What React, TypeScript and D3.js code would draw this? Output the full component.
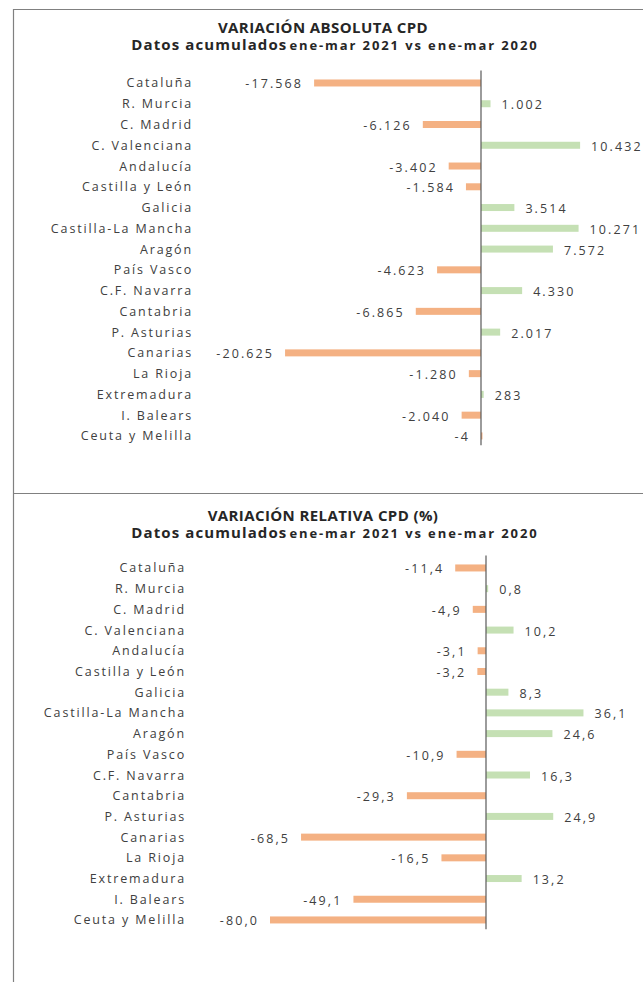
import { useRef, useEffect } from 'react';
import * as d3 from 'd3';

// Comunidades autónomas (orden del gráfico)
const CATEGORIES = [
  'Cataluña',
  'R. Murcia',
  'C. Madrid',
  'C. Valenciana',
  'Andalucía',
  'Castilla y León',
  'Galicia',
  'Castilla-La Mancha',
  'Aragón',
  'País Vasco',
  'C.F. Navarra',
  'Cantabria',
  'P. Asturias',
  'Canarias',
  'La Rioja',
  'Extremadura',
  'I. Balears',
  'Ceuta y Melilla'
];

// Variación absoluta CPD
const ABS_VALUES = [
  -17568, 1002, -6126, 10432, -3402, -1584, 3514, 10271, 7572, -4623, 4330,
  -6865, 2017, -20625, -1280, 283, -2040, -4
];

// Variación relativa CPD (%)
const REL_VALUES = [
  -11.4, 0.8, -4.9, 10.2, -3.1, -3.2, 8.3, 36.1, 24.6, -10.9, 16.3, -29.3,
  24.9, -68.5, -16.5, 13.2, -49.1, -80.0
];

const TITLES = ['VARIACIÓN ABSOLUTA CPD', 'VARIACIÓN RELATIVA CPD (%)'];
const SUB_BOLD = 'Datos acumulados';
const SUB_REST = 'ene-mar 2021 vs ene-mar 2020';

const NEG = '#F4B183';
const POS = '#C5E0B4';
const TXT = '#404040';
const FONT = '"Open Sans", "Noto Sans", sans-serif';

const es = d3.formatLocale({
  decimal: ',',
  thousands: '.',
  grouping: [3],
  currency: ['', '€'],
  minus: '-'
});

type PanelCfg = {
  top: number;
  values: number[];
  domain: [number, number];
  range: [number, number];
  band: [number, number];
  labelX: number;
  fmt: (n: number) => string;
  title: string;
};

const drawPanel = (
  svg: d3.Selection<SVGSVGElement, unknown, null, undefined>,
  cfg: PanelCfg
) => {
  const g = svg.append('g');
  const x = d3.scaleLinear().domain(cfg.domain).range(cfg.range);
  const y = d3.scaleBand().domain(CATEGORIES).range(cfg.band);
  const bh = 7;

  // títulos
  g.append('text')
    .attr('x', 323)
    .attr('y', cfg.top + 24)
    .attr('text-anchor', 'middle')
    .attr('font-family', FONT)
    .attr('font-weight', 'bold')
    .attr('font-size', 15)
    .attr('letter-spacing', 0.4)
    .attr('fill', '#262626')
    .text(cfg.title);

  const sub = g
    .append('text')
    .attr('x', 335)
    .attr('y', cfg.top + 41)
    .attr('text-anchor', 'middle')
    .attr('font-family', FONT)
    .attr('font-weight', 'bold')
    .attr('fill', '#262626');
  sub
    .append('tspan')
    .attr('font-size', 15)
    .attr('letter-spacing', 1.1)
    .text(SUB_BOLD);
  sub
    .append('tspan')
    .attr('dx', 2)
    .attr('font-size', 13)
    .attr('letter-spacing', 1.9)
    .text(SUB_REST);

  // categorías
  g.selectAll('text.cat')
    .data(CATEGORIES)
    .join('text')
    .attr('class', 'cat')
    .attr('x', cfg.labelX)
    .attr('y', (d) => (y(d) ?? 0) + y.bandwidth() / 2 + 4.5)
    .attr('text-anchor', 'end')
    .attr('font-family', FONT)
    .attr('font-size', 12.5)
    .attr('letter-spacing', 1.85)
    .attr('fill', TXT)
    .text((d) => d);

  const rows = CATEGORIES.map((c, i) => ({ c, v: cfg.values[i] }));

  // barras
  g.selectAll('rect.bar')
    .data(rows)
    .join('rect')
    .attr('class', 'bar')
    .attr('x', (d) => Math.min(x(0), x(d.v)))
    .attr('y', (d) => (y(d.c) ?? 0) + y.bandwidth() / 2 - bh / 2)
    .attr('width', (d) => Math.max(Math.abs(x(d.v) - x(0)), 1.5))
    .attr('height', bh)
    .attr('fill', (d) => (d.v < 0 ? NEG : POS));

  // eje cero
  g.append('line')
    .attr('x1', x(0))
    .attr('x2', x(0))
    .attr('y1', cfg.band[0] - 2)
    .attr('y2', cfg.band[1] - 1)
    .attr('stroke', '#595959')
    .attr('stroke-width', 1.2);

  // etiquetas de valor
  g.selectAll('text.val')
    .data(rows)
    .join('text')
    .attr('class', 'val')
    .attr('x', (d) => (d.v < 0 ? x(d.v) - 11 : x(d.v) + 11))
    .attr('y', (d) => (y(d.c) ?? 0) + y.bandwidth() / 2 + 5.5)
    .attr('text-anchor', (d) => (d.v < 0 ? 'end' : 'start'))
    .attr('font-family', FONT)
    .attr('font-size', 12.5)
    .attr('letter-spacing', 2.1)
    .attr('fill', TXT)
    .text((d) => cfg.fmt(d.v));
};

export default function App() {
  const ref = useRef<SVGSVGElement>(null);

  useEffect(() => {
    if (!ref.current) return;
    const svg = d3.select(ref.current);
    svg.selectAll('*').remove();

    // marcos
    svg
      .append('path')
      .attr('d', 'M13.5,982 V9.5 H643 M13.5,493.5 H643')
      .attr('fill', 'none')
      .attr('stroke', '#808080')
      .attr('stroke-width', 1.2);

    drawPanel(svg, {
      top: 9,
      values: ABS_VALUES,
      domain: [-25000, 15000],
      range: [481 - 237.5, 481 + 142.5],
      band: [72.6, 446.3],
      labelX: 193,
      fmt: es.format(',d'),
      title: TITLES[0]
    });

    drawPanel(svg, {
      top: 497,
      values: REL_VALUES,
      domain: [-100, 60],
      range: [486 - 270, 486 + 162],
      band: [557.6, 930.3],
      labelX: 186,
      fmt: es.format(',.1f'),
      title: TITLES[1]
    });
  }, []);

  return (
    <svg
      ref={ref}
      width={643}
      height={982}
      style={{ position: 'absolute', left: 0, top: 0, background: '#fff' }}
    />
  );
}
